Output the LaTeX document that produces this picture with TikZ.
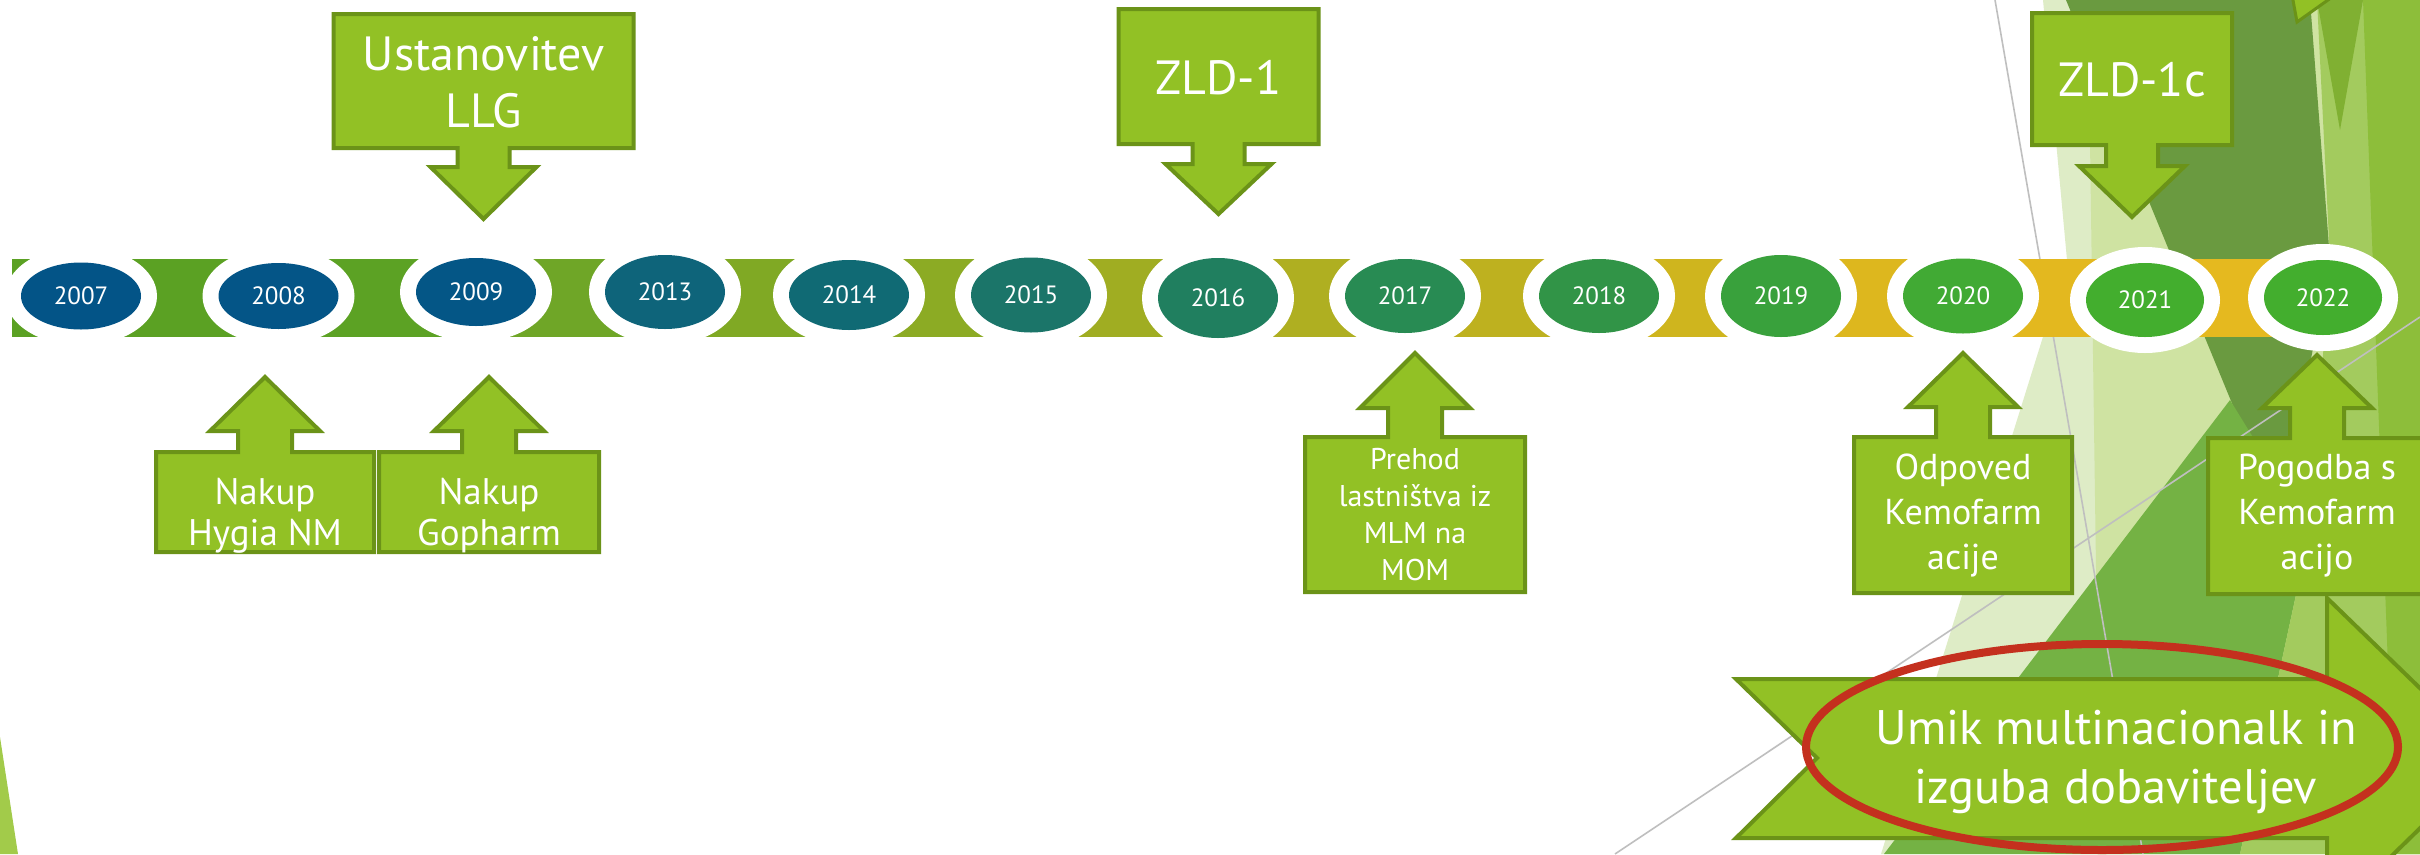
\documentclass[tikz,border=0pt]{standalone}
\usepackage{fontspec}
\setmainfont{PT Sans}
\definecolor{boxfill}{HTML}{92C125}
\definecolor{boxline}{HTML}{6B9318}
\definecolor{redring}{HTML}{C4301E}
\definecolor{palegr}{HTML}{DEECC6}
\definecolor{lightgr}{HTML}{CFE3A2}
\definecolor{darkgr}{HTML}{6A9A40}
\definecolor{medgr}{HTML}{74B244}
\definecolor{rgtA}{HTML}{A3CB5E}
\definecolor{rgtB}{HTML}{8DBE3A}
\definecolor{rgtC}{HTML}{80B032}
\definecolor{leftgr}{HTML}{A2CB4A}
\definecolor{bA}{HTML}{5BA123}
\definecolor{bB}{HTML}{5CA224}
\definecolor{bC}{HTML}{6FA627}
\definecolor{bD}{HTML}{80A924}
\definecolor{bE}{HTML}{8CAB24}
\definecolor{bF}{HTML}{A0AD22}
\definecolor{bG}{HTML}{AFAF21}
\definecolor{bH}{HTML}{BEB11F}
\definecolor{bI}{HTML}{CFB51E}
\definecolor{bJ}{HTML}{DDB71E}
\definecolor{bK}{HTML}{E3B81F}
\definecolor{bL}{HTML}{E5B91F}
\definecolor{oA}{HTML}{035487}
\definecolor{oB}{HTML}{045587}
\definecolor{oC}{HTML}{045686}
\definecolor{oD}{HTML}{0E647A}
\definecolor{oE}{HTML}{106A74}
\definecolor{oF}{HTML}{1B7569}
\definecolor{oG}{HTML}{207F5F}
\definecolor{oH}{HTML}{288B53}
\definecolor{oI}{HTML}{319447}
\definecolor{oJ}{HTML}{39A13C}
\definecolor{oK}{HTML}{41AA34}
\definecolor{oL}{HTML}{43AE2E}
% down callout: cx, half width, top, bottom, head base, tip
\newcommand\CallDown[6]{%
  \draw[callout] (#1-#2,#3) -- (#1+#2,#3) -- (#1+#2,#4) -- (#1+26,#4) -- (#1+26,#5)
    -- (#1+53,#5) -- (#1,#6) -- (#1-53,#5) -- (#1-26,#5) -- (#1-26,#4) -- (#1-#2,#4) -- cycle;}
% up callout: cx, half width, top, bottom, head base, tip
\newcommand\CallUp[6]{%
  \draw[callout] (#1-#2,#4) -- (#1+#2,#4) -- (#1+#2,#3) -- (#1+27,#3) -- (#1+27,#5)
    -- (#1+55,#5) -- (#1,#6) -- (#1-55,#5) -- (#1-27,#5) -- (#1-27,#3) -- (#1-#2,#3) -- cycle;}
% year oval: name, cx, cy, rx, ry, colour, text
\newcommand\YearOval[7]{%
  \fill[white] (#2,#3) ellipse [x radius=#4pt+16pt, y radius=#5pt+16pt];
  \fill[#6] (#2,#3) ellipse [x radius=#4pt, y radius=#5pt];
  \node[yr] (#1) at (#2,#3) {#7};}
\begin{document}
\begin{tikzpicture}[x=1pt,y=-1pt,
  callout/.style={fill=boxfill, draw=boxline, line width=4pt, line join=miter},
  txt/.style={text=white, align=center, inner sep=0pt},
  yr/.style={text=white, inner sep=0pt, font=\fontsize{25}{30}\selectfont},
  gline/.style={draw=black!25, line width=1.6pt}]
\useasboundingbox (0,0) rectangle (2420,854);
\clip (0,0) rectangle (2420,854);
\fill[white] (0,0) rectangle (2420,854);

% ---- background facets
\fill[leftgr] (0,737) -- (18,854) -- (0,854) -- cycle;
\fill[palegr] (2043,0) -- (2420,0) -- (2420,854) -- (1881,854) -- (2017,420) -- (2067,260) -- cycle;
\fill[lightgr] (2088,0) -- (2420,0) -- (2420,854) -- (2100,854) -- cycle;
\fill[darkgr] (2066,0) -- (2310,0) -- (2330,260) -- (2280,520) -- cycle;
\fill[medgr] (2230,400) -- (2310,530) -- (2240,854) -- (1884,854) -- cycle;
\fill[rgtA] (2317,0) -- (2420,0) -- (2420,854) -- (2240,854) -- (2310,530) -- (2330,260) -- cycle;
\fill[rgtB] (2363,0) -- (2420,0) -- (2420,854) -- (2395,854) -- cycle;
\fill[rgtC] (2317,0) -- (2363,0) -- (2340,130) -- cycle;
\draw[callout, line width=3pt] (2292,-5) -- (2297,22) -- (2335,-5);
\draw[gline] (1995,0) -- (2143,854);
\draw[gline] (1615,854) -- (2420,317);

% ---- timeline band
\fill[bA] (12,259) rectangle (278.5,337);
\fill[bB] (278.5,259) rectangle (476,337);
\fill[bC] (476,259) rectangle (665,337);
\fill[bD] (665,259) rectangle (849,337);
\fill[bE] (849,259) rectangle (1031,337);
\fill[bF] (1031,259) rectangle (1218,337);
\fill[bG] (1218,259) rectangle (1405,337);
\fill[bH] (1405,259) rectangle (1599,337);
\fill[bI] (1599,259) rectangle (1781,337);
\fill[bJ] (1781,259) rectangle (1963,337);
\fill[bK] (1963,259) rectangle (2145,337);
\fill[bL] (2145,259) rectangle (2323,337);

\YearOval{y2007}{81}{296}{60}{33.5}{oA}{2007}
\YearOval{y2008}{278.5}{296}{60}{33}{oB}{2008}
\YearOval{y2009}{476}{292}{60}{34}{oC}{2009}
\YearOval{y2013}{665}{292}{60}{37}{oD}{2013}
\YearOval{y2014}{849}{295}{60}{35}{oE}{2014}
\YearOval{y2015}{1031}{295}{60}{37.5}{oF}{2015}
\YearOval{y2016}{1218}{298}{60}{40}{oG}{2016}
\YearOval{y2017}{1405}{296}{60}{37}{oH}{2017}
\YearOval{y2018}{1599}{296}{60}{37}{oI}{2018}
\YearOval{y2019}{1781}{296}{60}{41}{oJ}{2019}
\YearOval{y2020}{1963}{296}{60}{37.5}{oK}{2020}
\YearOval{y2021}{2145}{300}{59}{37}{oL}{2021}
\YearOval{y2022}{2323}{297.5}{59}{37.5}{oL}{2022}

% ---- callouts above
\CallDown{483.5}{150}{14}{148}{167}{219}
\node[txt, font=\fontsize{48}{57}\selectfont] (ustan) at (483.5,82) {Ustanovitev\\LLG};
\CallDown{1218.5}{100}{9}{144}{164}{214}
\node[txt, font=\fontsize{48}{57}\selectfont] (zld1) at (1218.5,78) {ZLD-1};
\CallDown{2132}{100}{13}{145}{166}{217}
\node[txt, font=\fontsize{48}{57}\selectfont] (zld1c) at (2132,80) {ZLD-1c};

% ---- callouts below
\CallUp{265}{109}{452}{552}{431}{377}
\node[txt, font=\fontsize{37}{41}\selectfont] (hygia) at (265,516) {Nakup\\Hygia NM};
\CallUp{489}{110}{452}{552}{431}{377}
\node[txt, font=\fontsize{37}{41}\selectfont] (gopharm) at (489,516) {Nakup\\Gopharm};
\CallUp{1415}{110}{437}{592}{408}{353}
\node[txt, font=\fontsize{30}{37}\selectfont] (prehod) at (1415,515) {Prehod\\lastništva iz\\MLM na\\MOM};
\CallUp{1963}{109}{437}{593}{407}{353}
\node[txt, font=\fontsize{36}{45}\selectfont] (odpoved) at (1963,515) {Odpoved\\Kemofarm\\acije};
\CallUp{2317}{109}{438}{594}{408}{355}
\node[txt, font=\fontsize{36}{45}\selectfont] (pogodba) at (2317,516) {Pogodba s\\Kemofarm\\acijo};

% ---- ribbon
\draw[callout] (1736,679) -- (2327,679) -- (2327,598) -- (2492,758) -- (2327,919)
  -- (2327,838) -- (1736,838) -- (1817,758) -- cycle;
\node[txt, font=\fontsize{48.5}{59}\selectfont] (umik) at (2116,762) {Umik multinacionalk in\\izguba dobaviteljev};
\draw[redring, line width=8pt] (2102,747) ellipse [x radius=296pt, y radius=103pt];
\end{tikzpicture}
\end{document}
